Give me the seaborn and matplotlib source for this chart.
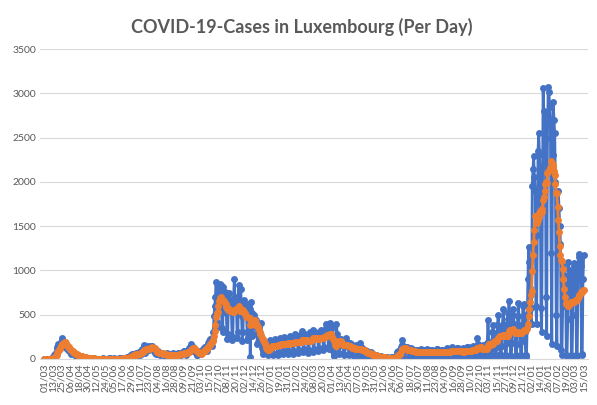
import pandas as pd
import seaborn as sns
import matplotlib
matplotlib.use('Agg')
import matplotlib.pyplot as plt

# daily reported cases
mar20 = [0,0,0,0,1,2,3,3,2,5,7,12,26,21,43,59,63,110,135,170,128,136,140,195,234,215,175,160,190,140,125]
apr20 = [128,102,135,98,96,74,55,63,84,80,57,45,42,30,36,40,34,28,24,31,21,19,17,15,21,18,14,12,9,11]
may20 = [10,8,6,4,5,3,6,7,4,2,3,5,2,4,1,3,0,2,3,4,6,2,4,1,2,5,3,4,9,7,4]
jun20 = [5,3,4,2,6,4,3,5,2,1,4,6,3,4,8,6,5,9,12,10,8,14,18,22,15,19,35,45,40,52]
jul20 = [48,55,60,42,38,63,57,71,73,80,48,60,91,108,112,158,96,70,124,104,132,145,120,98,125,147,139,147,106,96,85]
aug20 = [70,52,62,78,90,68,55,40,58,73,60,61,45,38,30,50,65,62,58,45,32,28,45,55,68,60,48,35,30,55,48]
sep20 = [55,65,48,70,62,40,52,74,85,90,78,60,45,72,95,110,120,135,170,100,88,140,115,105,90,72,50,45,58,62]
oct20 = [85,70,60,75,95,110,120,135,140,110,90,150,180,200,210,230,190,150,250,300,480,600,700,870,420,360,780,820,850,830,690]
nov20 = [350,300,810,720,760,680,520,230,280,700,750,660,620,540,220,250,680,900,700,640,560,240,300,840,650,600,785,480,200,310]
dec20 = [670,560,600,520,480,210,250,620,560,20,640,520,260,280,500,450,400,440,350,170,190,300,260,240,410,120,60,90,180,160,140]
jan21 = [90,70,40,60,180,210,190,170,140,45,70,200,230,180,190,150,50,80,220,240,210,200,160,55,85,250,230,220,210,170,60]
feb21 = [90,240,260,230,220,180,60,95,250,280,240,230,190,70,100,270,260,250,240,320,75,110,260,280,250,240,200,70]
mar21 = [100,270,300,280,260,330,80,110,280,310,270,290,240,90,120,300,330,290,300,250,100,130,320,350,390,340,260,110,140,410,360]
apr21 = [340,120,90,40,30,150,240,390,280,200,60,70,210,230,200,190,150,50,60,200,240,190,180,140,45,55,180,170,160,150]
may21 = [110,35,50,150,160,140,130,100,30,45,180,130,120,110,90,25,30,100,95,85,80,60,20,20,70,75,60,55,40,15,20]
jun21 = [40,45,35,30,20,8,10,30,25,20,18,12,5,8,22,20,15,16,10,4,6,18,15,14,20,12,5,10,35,60]
jul21 = [80,95,70,25,60,140,210,160,150,110,8,90,130,140,120,110,85,30,70,120,110,100,95,75,25,60,105,100,95,90,70]
aug21 = [20,55,110,105,100,95,80,20,55,105,110,95,90,75,20,50,100,105,95,85,70,18,50,110,115,100,90,70,20,45,100]
sep21 = [105,95,90,70,20,50,115,120,110,100,75,20,55,125,130,115,105,80,25,55,120,125,110,100,75,20,50,115,120,110]
oct21 = [100,80,20,55,130,135,120,115,85,25,60,140,150,135,130,100,30,70,240,165,150,145,110,30,75,150,160,150,140,100,30]
nov21 = [70,180,445,190,170,40,20,110,300,380,290,270,50,25,130,380,500,360,340,60,30,150,400,560,330,300,50,25,180,520]
dec21 = [450,650,380,50,25,180,500,560,400,350,45,25,170,480,630,380,330,50,25,200,600,620,500,300,40,20,350,900,1270,1100,800]
jan22 = [580,390,1950,2140,2290,2050,1900,600,400,1400,2350,2555,2300,2100,580,300,1700,3055,2800,2750,2650,700,265,2500,3075,3020,2850,2700,1200,170,2300]
feb22 = [2900,2700,2555,2000,500,150,1200,1900,1700,1500,1300,100,50,600,1050,950,850,800,40,30,450,1100,1000,950,900,40,30,500]
mar22 = [1080,1050,1000,950,40,30,700,1190,1150,1100,1050,60,40,900,1170]

months = [mar20, apr20, may20, jun20, jul20, aug20, sep20, oct20, nov20, dec20,
          jan21, feb21, mar21, apr21, may21, jun21, jul21, aug21, sep21, oct21, nov21, dec21,
          jan22, feb22, mar22]
cases = [v for m in months for v in m]
dates = pd.date_range('2020-03-01', periods=len(cases), freq='D')

df = pd.DataFrame({'pos': range(len(cases)), 'cases': cases})
# orange series = 7-day average of the daily counts
df['avg'] = df['cases'].rolling(7, min_periods=1).mean()

sns.set_style('white')
plt.rcParams['font.family'] = ['Lato', 'DejaVu Sans']

fig = plt.figure(figsize=(5.97, 4.05), dpi=100)
ax = fig.add_axes([0.067, 0.1136, 0.918, 0.7654])

sns.lineplot(data=df, x='pos', y='cases', ax=ax, color='#4472C4', linewidth=2.0,
             marker='o', markersize=5, markeredgewidth=0)
sns.lineplot(data=df, x='pos', y='avg', ax=ax, color='#ED7D31', linewidth=2.0,
             marker='o', markersize=5, markeredgewidth=0)

ax.set_ylim(0, 3500)
ax.set_yticks(range(0, 3501, 500))
ax.set_xlim(-6, len(cases) + 5)
tick_pos = list(range(0, len(cases), 12))
ax.set_xticks(tick_pos)
ax.set_xticklabels([dates[i].strftime('%d/%m') for i in tick_pos], rotation=90)
ax.tick_params(axis='both', labelsize=7.5, colors='#595959', length=0, pad=3)

ax.grid(axis='y', color='#D9D9D9', linewidth=0.8)
ax.set_axisbelow(True)
for s in ['top', 'right', 'left']:
    ax.spines[s].set_visible(False)
ax.spines['bottom'].set_color('#D9D9D9')
ax.set_xlabel('')
ax.set_ylabel('')

fig.suptitle('COVID-19-Cases in Luxembourg (Per Day)', x=0.505, y=0.955,
             fontsize=13, fontweight='bold', color='#595959')

plt.savefig('out.png', dpi=100)
